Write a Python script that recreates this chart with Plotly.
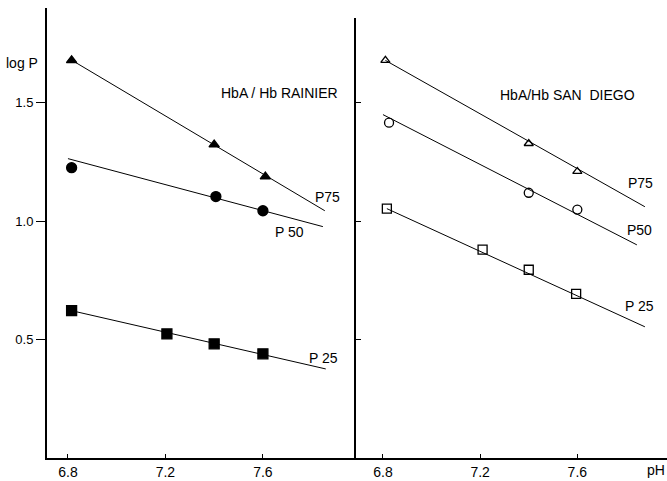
import plotly.graph_objects as go

# ---- data: HbA / Hb RAINIER (left panel) ----
ph_rainier_p75 = [6.815, 7.40, 7.61]
logp_rainier_p75 = [1.679, 1.323, 1.188]
ph_rainier_p50 = [6.815, 7.407, 7.60]
logp_rainier_p50 = [1.226, 1.104, 1.044]
ph_rainier_p25 = [6.815, 7.206, 7.40, 7.60]
logp_rainier_p25 = [0.622, 0.524, 0.482, 0.440]

fit_rainier_p75_x = [6.815, 7.854]
fit_rainier_p75_y = [1.680, 1.044]
fit_rainier_p50_x = [6.80, 7.846]
fit_rainier_p50_y = [1.264, 0.977]
fit_rainier_p25_x = [6.815, 7.858]
fit_rainier_p25_y = [0.622, 0.376]

# ---- data: HbA / Hb SAN DIEGO (right panel) ----
ph_sd_p75 = [6.81, 7.40, 7.60]
logp_sd_p75 = [1.679, 1.328, 1.210]
ph_sd_p50 = [6.825, 7.40, 7.60]
logp_sd_p50 = [1.416, 1.120, 1.049]
ph_sd_p25 = [6.816, 7.21, 7.40, 7.595]
logp_sd_p25 = [1.053, 0.880, 0.795, 0.693]

fit_sd_p75_x = [6.81, 7.878]
fit_sd_p75_y = [1.679, 1.061]
fit_sd_p50_x = [6.80, 7.845]
fit_sd_p50_y = [1.450, 0.900]
fit_sd_p25_x = [6.816, 7.878]
fit_sd_p25_y = [1.053, 0.554]

x_tick_vals = [6.8, 7.2, 7.6]
x_tick_text = ["6.8", "7.2", "7.6"]
y_tick_vals = [0.5, 1.0, 1.5]
y_tick_text = ["0.5", "1.0", "1.5"]

FONT = "Liberation Sans Narrow, Liberation Sans, Arial, sans-serif"
W, H = 667, 481

fig = go.Figure()

def line(x, y, xa, ya):
    fig.add_trace(go.Scatter(x=x, y=y, mode="lines", xaxis=xa, yaxis=ya,
                             line=dict(color="black", width=1), showlegend=False,
                             hoverinfo="skip"))

def pts(x, y, sym, size, xa, ya):
    fig.add_trace(go.Scatter(x=x, y=y, mode="markers", xaxis=xa, yaxis=ya,
                             marker=dict(symbol=sym, size=size, color="black",
                                         line=dict(color="black", width=1.3)),
                             showlegend=False))

# left panel
line(fit_rainier_p75_x, fit_rainier_p75_y, "x", "y")
line(fit_rainier_p50_x, fit_rainier_p50_y, "x", "y")
line(fit_rainier_p25_x, fit_rainier_p25_y, "x", "y")
pts(ph_rainier_p75, logp_rainier_p75, "triangle-up", 9, "x", "y")
pts(ph_rainier_p50, logp_rainier_p50, "circle", 10, "x", "y")
pts(ph_rainier_p25, logp_rainier_p25, "square", 10, "x", "y")

# right panel
line(fit_sd_p75_x, fit_sd_p75_y, "x2", "y2")
line(fit_sd_p50_x, fit_sd_p50_y, "x2", "y2")
line(fit_sd_p25_x, fit_sd_p25_y, "x2", "y2")
pts(ph_sd_p75, logp_sd_p75, "triangle-up-open", 8, "x2", "y2")
pts(ph_sd_p50, logp_sd_p50, "circle-open", 9, "x2", "y2")
pts(ph_sd_p25, logp_sd_p25, "square-open", 9, "x2", "y2")

def px(p):  # horizontal pixel -> paper
    return p / W

def py(p):  # vertical pixel (from top) -> paper
    return (H - p) / H

common_x = dict(showgrid=False, zeroline=False, showline=True, linecolor="black",
                linewidth=1.5, ticks="inside", ticklen=4, tickcolor="black",
                tickvals=x_tick_vals, ticktext=x_tick_text,
                tickfont=dict(family=FONT, size=14, color="black"), automargin=False)

fig.update_layout(
    width=W, height=H,
    margin=dict(l=0, r=0, t=0, b=0),
    paper_bgcolor="white", plot_bgcolor="white",
    font=dict(family=FONT, color="black"),
    xaxis=dict(domain=[px(47), px(356)], range=[6.714, 7.982], anchor="y", **common_x),
    xaxis2=dict(domain=[px(356), 1.0], range=[6.689, 7.969], anchor="y2", **common_x),
    yaxis=dict(domain=[py(458), py(8)], range=[0, 1.90], anchor="x",
               showgrid=False, zeroline=False, showline=True, linecolor="black",
               linewidth=2, ticks="outside", ticklen=9, tickcolor="black",
               tickvals=y_tick_vals, ticktext=y_tick_text,
               tickfont=dict(family=FONT, size=13, color="black"), automargin=False),
    yaxis2=dict(domain=[py(458), py(18)], range=[0, 1.858], anchor="x2",
                showgrid=False, zeroline=False, showline=True, linecolor="black",
                linewidth=2, ticks="inside", ticklen=5, tickcolor="black",
                tickvals=y_tick_vals, showticklabels=False, automargin=False),
)

ann_font = dict(family=FONT, size=14, color="black")
annotations = [
    dict(x=7.67, y=1.541, xref="x", yref="y", text="HbA / Hb RAINIER"),
    dict(x=7.863, y=1.102, xref="x", yref="y", text="P75"),
    dict(x=7.711, y=0.954, xref="x", yref="y", text="P 50"),
    dict(x=7.85, y=0.422, xref="x", yref="y", text="P 25"),
    dict(x=7.561, y=1.533, xref="x2", yref="y2", text="HbA/Hb SAN  DIEGO"),
    dict(x=7.858, y=1.161, xref="x2", yref="y2", text="P75"),
    dict(x=7.854, y=0.963, xref="x2", yref="y2", text="P50"),
    dict(x=7.854, y=0.642, xref="x2", yref="y2", text="P 25"),
    dict(x=px(22), y=py(63), xref="paper", yref="paper", text="log P"),
    dict(x=px(656), y=py(470), xref="paper", yref="paper", text="pH"),
]
for a in annotations:
    a.update(showarrow=False, font=ann_font, xanchor="center", yanchor="middle")
fig.update_layout(annotations=annotations)

fig.write_html(
    "out.html",
    config={"displayModeBar": False},
    post_script="document.body.style.margin='0';document.body.style.padding='0';"
                "document.body.style.overflow='hidden';"
                "document.documentElement.style.overflow='hidden';",
)
